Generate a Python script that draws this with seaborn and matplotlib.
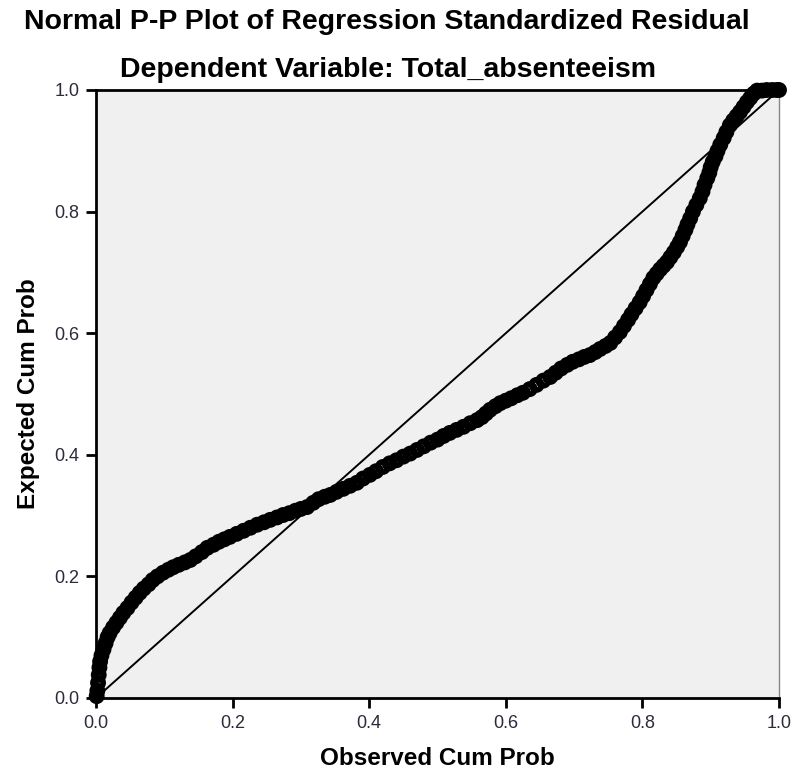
import matplotlib
matplotlib.use("Agg")
import matplotlib.pyplot as plt
import seaborn as sns
import pandas as pd

observed_cum_prob = [
    0.001, 0.002, 0.003, 0.004, 0.005, 0.006, 0.008, 0.011, 0.014, 0.017, 0.020,
    0.025, 0.030, 0.035, 0.040, 0.046, 0.052, 0.058, 0.064, 0.070, 0.077, 0.083,
    0.090, 0.098, 0.106, 0.113, 0.121, 0.130, 0.138, 0.146, 0.155, 0.163, 0.172,
    0.180, 0.188, 0.196, 0.206, 0.216, 0.226, 0.236, 0.246, 0.255, 0.265, 0.274,
    0.283, 0.292, 0.300, 0.309, 0.318, 0.326, 0.335, 0.343, 0.352, 0.362, 0.372,
    0.382, 0.391, 0.401, 0.410, 0.420, 0.430, 0.440, 0.450, 0.460, 0.470, 0.480,
    0.490, 0.500, 0.509, 0.518, 0.528, 0.538, 0.548, 0.558, 0.565, 0.571, 0.577,
    0.585, 0.592, 0.600, 0.608, 0.617, 0.625, 0.635, 0.645, 0.655, 0.665, 0.673,
    0.681, 0.690, 0.698, 0.707, 0.715, 0.723, 0.731, 0.738, 0.746, 0.753, 0.760,
    0.767, 0.773, 0.779, 0.784, 0.790, 0.796, 0.801, 0.806, 0.811, 0.816, 0.821,
    0.826, 0.831, 0.836, 0.841, 0.846, 0.851, 0.855, 0.859, 0.863, 0.866, 0.870,
    0.874, 0.879, 0.884, 0.888, 0.891, 0.895, 0.898, 0.900, 0.903, 0.907, 0.910,
    0.914, 0.919, 0.923, 0.928, 0.933, 0.938, 0.943, 0.948, 0.953, 0.958, 0.963,
    0.968, 0.975, 0.982, 0.990, 0.997, 1.000,
]
expected_cum_prob = [
    0.003, 0.012, 0.025, 0.038, 0.050, 0.060, 0.070, 0.080, 0.090, 0.100, 0.107,
    0.116, 0.124, 0.132, 0.140, 0.148, 0.157, 0.165, 0.173, 0.180, 0.187, 0.194,
    0.200, 0.206, 0.211, 0.215, 0.219, 0.223, 0.227, 0.233, 0.240, 0.247, 0.252,
    0.257, 0.261, 0.265, 0.270, 0.275, 0.280, 0.285, 0.289, 0.293, 0.297, 0.301,
    0.304, 0.308, 0.311, 0.314, 0.321, 0.327, 0.331, 0.334, 0.339, 0.344, 0.349,
    0.354, 0.361, 0.367, 0.373, 0.380, 0.386, 0.391, 0.397, 0.402, 0.408, 0.414,
    0.420, 0.425, 0.431, 0.436, 0.441, 0.446, 0.452, 0.457, 0.462, 0.468, 0.474,
    0.480, 0.485, 0.489, 0.493, 0.498, 0.502, 0.508, 0.515, 0.522, 0.528, 0.535,
    0.542, 0.548, 0.553, 0.557, 0.561, 0.564, 0.569, 0.574, 0.579, 0.584, 0.593,
    0.602, 0.612, 0.622, 0.631, 0.641, 0.651, 0.661, 0.671, 0.681, 0.691, 0.698,
    0.705, 0.711, 0.717, 0.725, 0.733, 0.742, 0.750, 0.760, 0.770, 0.779, 0.789,
    0.800, 0.811, 0.822, 0.833, 0.844, 0.855, 0.864, 0.873, 0.882, 0.891, 0.900,
    0.910, 0.921, 0.931, 0.942, 0.950, 0.957, 0.964, 0.972, 0.980, 0.987, 0.994,
    0.999, 0.999, 1.000, 1.000, 1.000, 1.000,
]
diag_x = [0.0, 1.0]
diag_y = [0.0, 1.0]
tick_values = [0.0, 0.2, 0.4, 0.6, 0.8, 1.0]
tick_labels = ["0.0", "0.2", "0.4", "0.6", "0.8", "1.0"]

sns.set_theme(style="white")
plt.rcParams['font.family'] = ['Liberation Sans', 'DejaVu Sans']

df = pd.DataFrame({"obs": observed_cum_prob, "exp": expected_cum_prob})
diag = pd.DataFrame({"x": diag_x, "y": diag_y})

fig = plt.figure(figsize=(7.96, 7.70), dpi=100)
ax = fig.add_axes([96/796, 1 - 698/770, (779-96)/796, (698-90)/770])
ax.set_facecolor("#f0f0f0")

sns.lineplot(data=diag, x="x", y="y", ax=ax, color="black", linewidth=1.4, zorder=2)
sns.scatterplot(data=df, x="obs", y="exp", ax=ax, marker="o", s=55,
                facecolors="none", edgecolor="black", linewidth=4.0, zorder=3,
                clip_on=False)

ax.set_xlim(0, 1)
ax.set_ylim(0, 1)
ax.set_xticks(tick_values)
ax.set_xticklabels(tick_labels)
ax.set_yticks(tick_values)
ax.set_yticklabels(tick_labels)
ax.tick_params(axis="both", direction="out", length=7, width=2, color="black",
               labelsize=13, labelcolor="#2b2b3b", pad=5,
               bottom=True, left=True, top=False, right=False)

for side in ["left", "bottom", "top"]:
    ax.spines[side].set_color("black")
    ax.spines[side].set_linewidth(2)
ax.spines["right"].set_color("#888888")
ax.spines["right"].set_linewidth(1)

ax.set_xlabel("Observed Cum Prob", fontsize=17.5, fontweight="bold", labelpad=11,
              color="black")
ax.set_ylabel("Expected Cum Prob", fontsize=17.5, fontweight="bold", labelpad=10,
              color="black")

fig.text(387/796, 1 - 22/770, "Normal P-P Plot of Regression Standardized Residual",
         ha="center", va="center", fontsize=20.5, fontweight="bold", color="black")
fig.text(388/796, 1 - 70/770, "Dependent Variable: Total_absenteeism",
         ha="center", va="center", fontsize=20.5, fontweight="bold", color="black")

fig.savefig("out.png", dpi=100)
